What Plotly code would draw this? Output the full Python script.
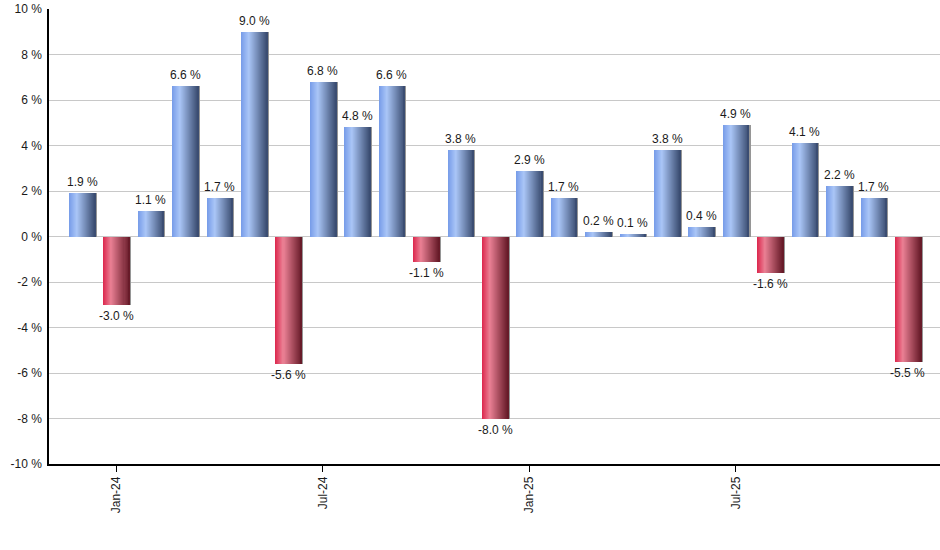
import plotly.graph_objects as go

# ==========================================
# 1. DATA
# ==========================================
months = ["Dec-23", "Jan-24", "Feb-24", "Mar-24", "Apr-24", "May-24", "Jun-24",
          "Jul-24", "Aug-24", "Sep-24", "Oct-24", "Nov-24", "Dec-24",
          "Jan-25", "Feb-25", "Mar-25", "Apr-25", "May-25", "Jun-25",
          "Jul-25", "Aug-25", "Sep-25", "Oct-25", "Nov-25", "Dec-25"]
returns = [1.9, -3.0, 1.1, 6.6, 1.7, 9.0, -5.6,
           6.8, 4.8, 6.6, -1.1, 3.8, -8.0,
           2.9, 1.7, 0.2, 0.1, 3.8, 0.4,
           4.9, -1.6, 4.1, 2.2, 1.7, -5.5]
tick_months = ["Jan-24", "Jul-24", "Jan-25", "Jul-25"]
y_ticks = [-10, -8, -6, -4, -2, 0, 2, 4, 6, 8, 10]

# ==========================================
# 2. GRADIENT HELPERS
# ==========================================
BLUE_STOPS = [(0.0, (118, 155, 232)), (0.3, (170, 198, 247)), (1.0, (56, 74, 110))]
RED_STOPS = [(0.0, (220, 38, 76)), (0.3, (234, 128, 148)), (1.0, (100, 24, 38))]

def mau_gradient(stops, t):
    for (t0, c0), (t1, c1) in zip(stops[:-1], stops[1:]):
        if t0 <= t <= t1:
            k = (t - t0) / (t1 - t0)
            r, g, b = [round(a + (b_ - a) * k) for a, b_ in zip(c0, c1)]
            return f"rgb({r},{g},{b})"
    r, g, b = stops[-1][1]
    return f"rgb({r},{g},{b})"

BAR_W = 0.76
N_SLICE = 26
slice_w = BAR_W / N_SLICE
FONT = "Liberation Sans, Arial, sans-serif"

fig = go.Figure()

# bong do nhe ben phai
fig.add_trace(go.Bar(
    x=months, y=returns, width=BAR_W, offset=-BAR_W / 2 + 0.045,
    marker=dict(color="rgb(150,150,150)", line=dict(width=0)),
    hoverinfo="skip", showlegend=False))

for i in range(N_SLICE):
    t = (i + 0.5) / N_SLICE
    colors = [mau_gradient(BLUE_STOPS if v >= 0 else RED_STOPS, t) for v in returns]
    w = slice_w if i == N_SLICE - 1 else slice_w * 2
    fig.add_trace(go.Bar(
        x=months, y=returns, width=w, offset=-BAR_W / 2 + i * slice_w,
        marker=dict(color=colors, line=dict(width=0)),
        hoverinfo="skip", showlegend=False))

# nhan gia tri
for m, v in zip(months, returns):
    fig.add_annotation(
        x=m, y=v, text=f"{v:.1f} %", showarrow=False,
        yshift=11 if v >= 0 else -11,
        font=dict(family=FONT, size=12, color="#1a1a1a"))

fig.update_layout(
    width=940, height=550,
    margin=dict(l=49, r=0, t=9, b=86),
    barmode="overlay", bargap=0,
    plot_bgcolor="white", paper_bgcolor="white",
    font=dict(family=FONT, size=12, color="#1a1a1a"),
    xaxis=dict(
        type="category", range=[-0.96, 24.93], automargin=False,
        tickmode="array", tickvals=tick_months, ticktext=tick_months,
        tickangle=-90, ticks="outside", ticklen=6, tickcolor="black",
        showgrid=False, showline=True, linecolor="black", linewidth=1.5,
        tickfont=dict(size=12)),
    yaxis=dict(
        range=[-10, 10], tickmode="array", tickvals=y_ticks, automargin=False,
        ticktext=[f"{v} %" for v in y_ticks],
        showgrid=True, gridcolor="#c8c8c8", gridwidth=1,
        zeroline=True, zerolinecolor="#c8c8c8", zerolinewidth=1,
        showline=True, linecolor="black", linewidth=1.5,
        ticks="", ticklabelstandoff=3, tickfont=dict(size=12)),
)

# bo le mac dinh cua trang de khung ve khop voi cua so
fig.write_html("out.html", config={"displayModeBar": False},
               post_script="document.body.style.margin='0';")
